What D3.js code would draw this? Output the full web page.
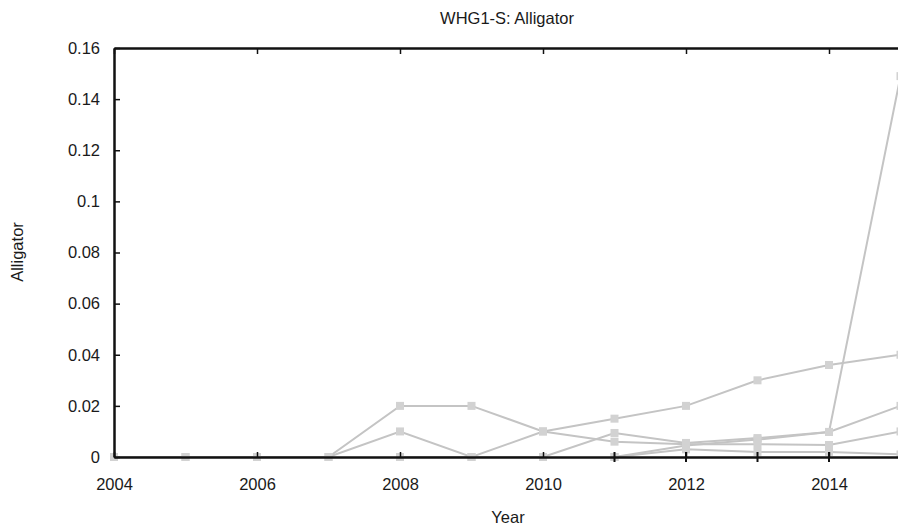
<!DOCTYPE html>
<html>
<head>
<meta charset="utf-8">
<script src="https://cdn.jsdelivr.net/npm/d3@7"></script>
<style>
  body { margin: 0; background: #fff; }
  text { font-family: "Liberation Sans", Arial, sans-serif; fill: #1a1a1a; }
</style>
</head>
<body>
<div id="chart"></div>
<script>
// years on the x axis
const years = [2004, 2005, 2006, 2007, 2008, 2009, 2010, 2011, 2012, 2013, 2014, 2015];

// gray series, one value per year (null = no point)
const seriesA = [0, 0, 0, 0, 0.02, 0.02, 0.01, 0.006, 0.005, 0.005, 0.0047, 0.01];
const seriesB = [0, 0, 0, 0, 0.01, 0, 0.01, 0.015, 0.02, 0.03, 0.036, 0.04];
const seriesC = [null, null, null, null, 0, 0, 0, 0.0094, 0.0055, 0.0074, 0.0098, 0.149];
const seriesD = [null, null, null, null, null, null, null, 0, 0.0045, 0.0068, 0.0098, 0.02];
const seriesE = [null, null, null, null, null, null, null, 0, 0.003, 0.002, 0.002, 0.001];
// black series sitting on the axis
const seriesBlack = [null, null, null, null, null, null, null, 0, 0, 0, 0, 0];

const grayLines = [seriesA, seriesB, seriesC, seriesD, seriesE];

const yTicks = [0, 0.02, 0.04, 0.06, 0.08, 0.1, 0.12, 0.14, 0.16];
const xTicks = [2004, 2006, 2008, 2010, 2012, 2014];

const width = 898, height = 530;
const margin = { top: 48, left: 114, bottom: 73 };

const svg = d3.select("#chart").append("svg")
  .attr("width", width)
  .attr("height", height);

const x = d3.scaleLinear().domain([2004, 2015]).range([margin.left, 900.5]);
const y = d3.scaleLinear().domain([0, 0.16]).range([height - margin.bottom, margin.top]);

// title
svg.append("text")
  .attr("x", 507).attr("y", 24)
  .attr("text-anchor", "middle")
  .style("font-size", "16.5px")
  .text("WHG1-S: Alligator");

// data lines
const line = d3.line()
  .defined(d => d.v !== null)
  .x(d => x(d.year))
  .y(d => y(d.v));

grayLines.forEach(s => {
  const pts = years.map((yr, i) => ({ year: yr, v: s[i] }));
  svg.append("path")
    .datum(pts)
    .attr("fill", "none")
    .attr("stroke", "#c4c4c4")
    .attr("stroke-width", 2)
    .attr("d", line);
  svg.selectAll(null)
    .data(pts.filter(d => d.v !== null))
    .enter().append("rect")
    .attr("x", d => x(d.year) - 4)
    .attr("y", d => y(d.v) - 4)
    .attr("width", 8)
    .attr("height", 8)
    .attr("fill", "#d2d2d2");
});

// axes (frame)
const bottomAxis = d3.axisBottom(x).tickValues(xTicks).tickFormat(d3.format("d")).tickSizeInner(-5).tickSizeOuter(0).tickPadding(21);
const topAxis = d3.axisTop(x).tickValues(xTicks).tickFormat("").tickSizeInner(-6).tickSizeOuter(0);
const leftAxis = d3.axisLeft(y).tickValues(yTicks).tickFormat(d => d === 0 ? "0" : d3.format("")(+d.toFixed(2))).tickSizeInner(-6).tickSizeOuter(0).tickPadding(14);

function styleAxis(g) {
  g.select(".domain").attr("stroke", "#111").attr("stroke-width", 2.5);
  g.selectAll(".tick line").attr("stroke", "#111").attr("stroke-width", 1.5);
  g.selectAll("text").style("font-size", "16.5px").style("font-family", "Liberation Sans, Arial, sans-serif").attr("fill", "#1a1a1a");
}

svg.append("g").attr("transform", `translate(0,${y(0)})`).call(bottomAxis).call(styleAxis);
svg.append("g").attr("transform", `translate(0,${margin.top})`).call(topAxis).call(styleAxis);
svg.append("g").attr("transform", `translate(${margin.left},0)`).call(leftAxis).call(styleAxis);

// black markers on the axis
svg.selectAll(null)
  .data(years.map((yr, i) => ({ year: yr, v: seriesBlack[i] })).filter(d => d.v !== null))
  .enter().append("line")
  .attr("x1", d => x(d.year)).attr("x2", d => x(d.year))
  .attr("y1", d => y(d.v) - 5).attr("y2", d => y(d.v) + 5)
  .attr("stroke", "#111").attr("stroke-width", 2);

// axis labels
svg.append("text")
  .attr("x", 508).attr("y", 523)
  .attr("text-anchor", "middle")
  .style("font-size", "16.5px")
  .text("Year");

svg.append("text")
  .attr("transform", "translate(23,252) rotate(-90)")
  .attr("text-anchor", "middle")
  .style("font-size", "16.5px")
  .text("Alligator");
</script>
</body>
</html>
